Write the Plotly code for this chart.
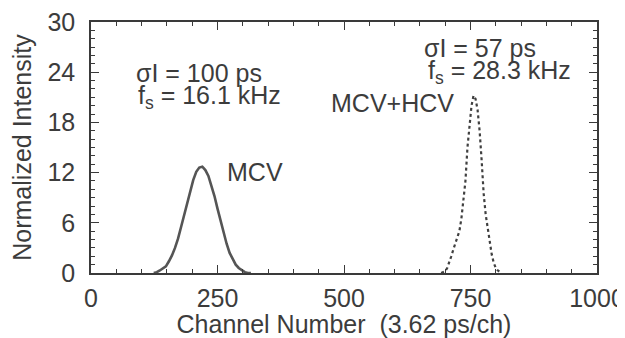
import plotly.graph_objects as go

# MCV peak (channel, normalized intensity)
mcv_ch = [124, 130, 136, 142, 148, 154, 160, 166, 172, 178, 184, 190, 196, 202, 208,
          214, 220, 226, 232, 238, 244, 250, 256, 262, 268, 274, 280, 286, 292, 298,
          304, 310, 316]
mcv_val = [0.0, 0.1, 0.3, 0.5, 0.8, 1.4, 2.1, 3.0, 4.1, 5.5, 6.9, 8.4, 9.8, 11.1, 12.1,
           12.6, 12.7, 12.3, 11.6, 10.5, 9.2, 7.7, 6.2, 4.8, 3.5, 2.4, 1.6, 1.0, 0.6, 0.3,
           0.1, 0.0, 0.0]

# MCV+HCV peak
hcv_ch = [692, 696, 700, 704, 708, 712, 716, 720, 724, 728, 732, 736, 740, 744, 748,
          752, 756, 760, 764, 768, 772, 776, 780, 784, 788, 792, 796, 800, 804, 808, 812]
hcv_val = [0.0, 0.1, 0.2, 0.6, 1.2, 2.0, 2.8, 3.6, 4.4, 5.0, 6.5, 8.5, 11.0, 15.0, 18.0,
           20.0, 21.2, 20.8, 19.5, 17.0, 13.5, 9.5, 7.0, 5.5, 3.5, 2.2, 1.2, 0.6, 0.3, 0.1, 0.0]

x_ticks = [0, 250, 500, 750, 1000]
y_ticks = [0, 6, 12, 18, 24, 30]

ink = "#3a3a3a"
txt = "#3c3c3c"
font = "Liberation Sans, Arial, Helvetica, sans-serif"
FS = 25

fig = go.Figure()
fig.add_trace(go.Scatter(x=mcv_ch, y=mcv_val, mode="lines",
                         line=dict(color="#555555", width=2.6), showlegend=False))
fig.add_trace(go.Scatter(x=hcv_ch, y=hcv_val, mode="lines",
                         line=dict(color="#404040", width=2.2, dash="dot"), showlegend=False))

axis_common = dict(showgrid=False, zeroline=False, showline=True, mirror="allticks",
                   linecolor=ink, linewidth=1.5, ticks="inside", tickcolor=ink,
                   tickwidth=1.2, ticklen=8, automargin=False, ticklabeloverflow="allow",
                   tickfont=dict(family=font, size=FS, color=txt))

fig.update_xaxes(range=[0, 1000], tickvals=x_ticks, ticktext=[str(v) for v in x_ticks],
                 ticklabelstandoff=2,
                 minor=dict(dtick=50, ticks="inside", ticklen=4, tickcolor=ink, tickwidth=1.1),
                 title=dict(text="Channel Number  (3.62 ps/ch)", standoff=4,
                            font=dict(family=font, size=FS, color=txt)),
                 **axis_common)
fig.update_yaxes(range=[0, 30], tickvals=y_ticks, ticktext=[str(v) for v in y_ticks],
                 ticklabelstandoff=9,
                 minor=dict(dtick=1, ticks="inside", ticklen=4, tickcolor=ink, tickwidth=1.1),
                 title=dict(text="Normalized Intensity", standoff=14,
                            font=dict(family=font, size=FS, color=txt)),
                 **axis_common)

ann_font = dict(family=font, size=FS, color=txt)
annotations = [
    ("σI = 100 ps", 135, 73),
    ("f<sub>s</sub> = 16.1 kHz", 137, 97),
    ("σI = 57 ps", 423, 48),
    ("f<sub>s</sub> = 28.3 kHz", 427, 72),
    ("MCV", 226, 172),
    ("MCV+HCV", 330, 103),
]
for text, px, py in annotations:
    fig.add_annotation(text=text, xref="paper", yref="paper",
                       x=(px - 91) / (597 - 91), y=(273 - py) / (273 - 22),
                       xanchor="left", yanchor="middle", showarrow=False,
                       borderpad=0, font=ann_font)

# page body has an 8px margin, so the figure is offset by 8px in the window
fig.update_layout(width=617, height=330, margin=dict(l=83, r=28, t=14, b=65),
                  paper_bgcolor="white", plot_bgcolor="white",
                  font=dict(family=font, color=txt))

fig.write_html("out.html")
